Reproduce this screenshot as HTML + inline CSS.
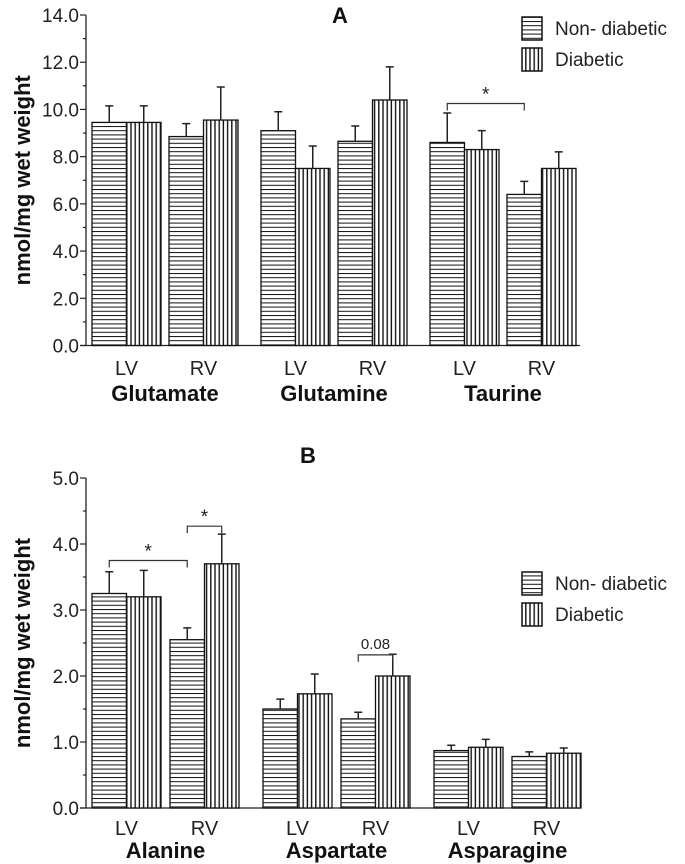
<!DOCTYPE html>
<html><head><meta charset="utf-8"><style>
body{margin:0;background:#fff;}
svg{display:block;font-family:"Liberation Sans",Arial,sans-serif;}
</style></head><body>
<svg id="c" width="685" height="864" xmlns="http://www.w3.org/2000/svg">
<defs>
<pattern id="hz" patternUnits="userSpaceOnUse" width="6" height="4.2"><rect width="6" height="4.2" fill="#fff"/><line x1="0" y1="0.5" x2="6" y2="0.5" stroke="#111" stroke-width="1"/></pattern>
<pattern id="vt" patternUnits="userSpaceOnUse" width="4.2" height="6"><rect width="4.2" height="6" fill="#fff"/><line x1="0.8" y1="0" x2="0.8" y2="6" stroke="#111" stroke-width="1.4"/></pattern>
</defs>
</svg>
<script>
const NS="http://www.w3.org/2000/svg";
const svg=document.getElementById('c');
// Panel A data
const catsA=["Glutamate","Glutamine","Taurine"];
const nonA=[9.45,8.85,9.1,8.65,8.6,6.4];
const nonAerr=[0.7,0.55,0.8,0.65,1.25,0.55];
const diaA=[9.45,9.55,7.5,10.4,8.3,7.5];
const diaAerr=[0.7,1.4,0.95,1.4,0.8,0.7];
const ticksA=["0.0","2.0","4.0","6.0","8.0","10.0","12.0","14.0"];
// Panel B data
const catsB=["Alanine","Aspartate","Asparagine"];
const nonB=[3.25,2.55,1.5,1.35,0.87,0.78];
const nonBerr=[0.33,0.18,0.15,0.1,0.08,0.07];
const diaB=[3.2,3.7,1.73,2.0,0.92,0.83];
const diaBerr=[0.4,0.45,0.3,0.33,0.12,0.08];
const ticksB=["0.0","1.0","2.0","3.0","4.0","5.0"];

function el(tag,attrs,parent){const e=document.createElementNS(NS,tag);for(const k in attrs)e.setAttribute(k,attrs[k]);(parent||svg).appendChild(e);return e;}
function txt(s,attrs){const t=el('text',attrs);t.textContent=s;return t;}

function panel(o){
  const g=el('g',{});
  
  
  const y=v=>o.base-(v/o.max)*(o.base-o.top);
  const barX=(i,s)=>o.x0+Math.floor(i/2)*o.gstep+(i%2)*o.pstep+s*o.bw;
  const ax=el('line',{x1:o.ax,y1:o.top,x2:o.ax,y2:o.base,stroke:'#222','stroke-width':1.3},g);
  
  const xa=el('line',{x1:o.ax-6,y1:o.base,x2:580,y2:o.base,stroke:'#222','stroke-width':1.3},g);
  
  const n=o.ticks.length-1;
  for(let k=0;k<=n*2;k++){
    const v=o.max*k/(n*2), yy=y(v);
    el('line',{x1:o.ax-(k%2?3:6),y1:yy,x2:o.ax,y2:yy,stroke:'#222','stroke-width':1.2},g);
  }
  o.ticks.forEach(t=>{const tl=txt(t,{x:o.ax-7,y:y(parseFloat(t))+7,'text-anchor':'end','font-size':19,fill:'#222'});
    });
  const yt=txt('nmol/mg wet weight',{x:0,y:0,'font-size':22,'font-weight':'bold',fill:'#111','text-anchor':'middle',transform:`translate(30,${(o.top+o.base)/2}) rotate(-90)`});
  
  [[o.non,o.nerr,'url(#hz)',0,'bar-non-diabetic'],[o.dia,o.derr,'url(#vt)',1,'bar-diabetic']].forEach(([vals,errs,fill,s,nm])=>{
    vals.forEach((v,i)=>{
      const x=barX(i,s), top=y(v), ye=y(v+errs[i]), cx=x+o.bw/2;
      const r=el('rect',{x:x,y:top,width:o.bw,height:o.base-top,fill:fill,stroke:'#111','stroke-width':1.3});
      
      const e=el('path',{d:`M${cx} ${top}V${ye}M${cx-4} ${ye}H${cx+4}`,stroke:'#222','stroke-width':1.5,fill:'none'});
      
    });
  });
  for(let i=0;i<6;i++){
    const cx=barX(i,0)+o.bw;
    const l=txt(i%2?'RV':'LV',{x:cx,y:o.lvY,'text-anchor':'middle','font-size':20,fill:'#222'});
    
  }
  o.cats.forEach((c,j)=>{
    const cx=(barX(2*j,0)+barX(2*j+1,1)+o.bw)/2;
    const l=txt(c,{x:cx,y:o.catY,'text-anchor':'middle','font-size':22,'font-weight':'bold',fill:'#111'});
    
  });
  const ti=txt(o.title,{x:o.titleX,y:o.titleY,'text-anchor':'middle','font-size':22,'font-weight':'bold',fill:'#111'});
  
  [['url(#hz)','Non- diabetic'],['url(#vt)','Diabetic']].forEach(([f,t],k)=>{
    const ly=o.legY+k*31;
    const b=el('rect',{x:522,y:ly,width:20,height:23,fill:f,stroke:'#111','stroke-width':1.5});
    
    const lt=txt(t,{x:555,y:ly+18,'font-size':19,fill:'#222'});
    
  });
  o.brackets.forEach(([a,b,yv,lab])=>{
    const x1=barX(a[0],a[1])+o.bw/2, x2=barX(b[0],b[1])+o.bw/2, yy=y(yv);
    const p=el('path',{d:`M${x1} ${yy+7}V${yy}H${x2}V${yy+7}`,stroke:'#333','stroke-width':1.2,fill:'none'});
    
    const s=txt(lab,{x:(x1+x2)/2,y:lab==='*'?yy-3:yy-6,'text-anchor':'middle','font-size':lab==='*'?19:15,fill:'#222'});
    
  });
}
panel({name:'panel-a',ax:86,top:15,base:345.5,max:14,ticks:ticksA,x0:92,gstep:169,pstep:77,bw:34.5,
  non:nonA,nerr:nonAerr,dia:diaA,derr:diaAerr,cats:catsA,lvY:375,catY:401,title:'A',titleX:340,titleY:23,legY:17,
  brackets:[[[4,0],[5,0],10.25,'*']]});
panel({name:'panel-b',ax:86,top:478,base:808,max:5,ticks:ticksB,x0:92,gstep:171,pstep:78,bw:34.5,
  non:nonB,nerr:nonBerr,dia:diaB,derr:diaBerr,cats:catsB,lvY:835,catY:858,title:'B',titleX:308,titleY:463,legY:572,
  brackets:[[[0,0],[1,0],3.75,'*'],[[1,0],[1,1],4.27,'*'],[[3,0],[3,1],2.32,'0.08']]});
</script>
</body></html>
